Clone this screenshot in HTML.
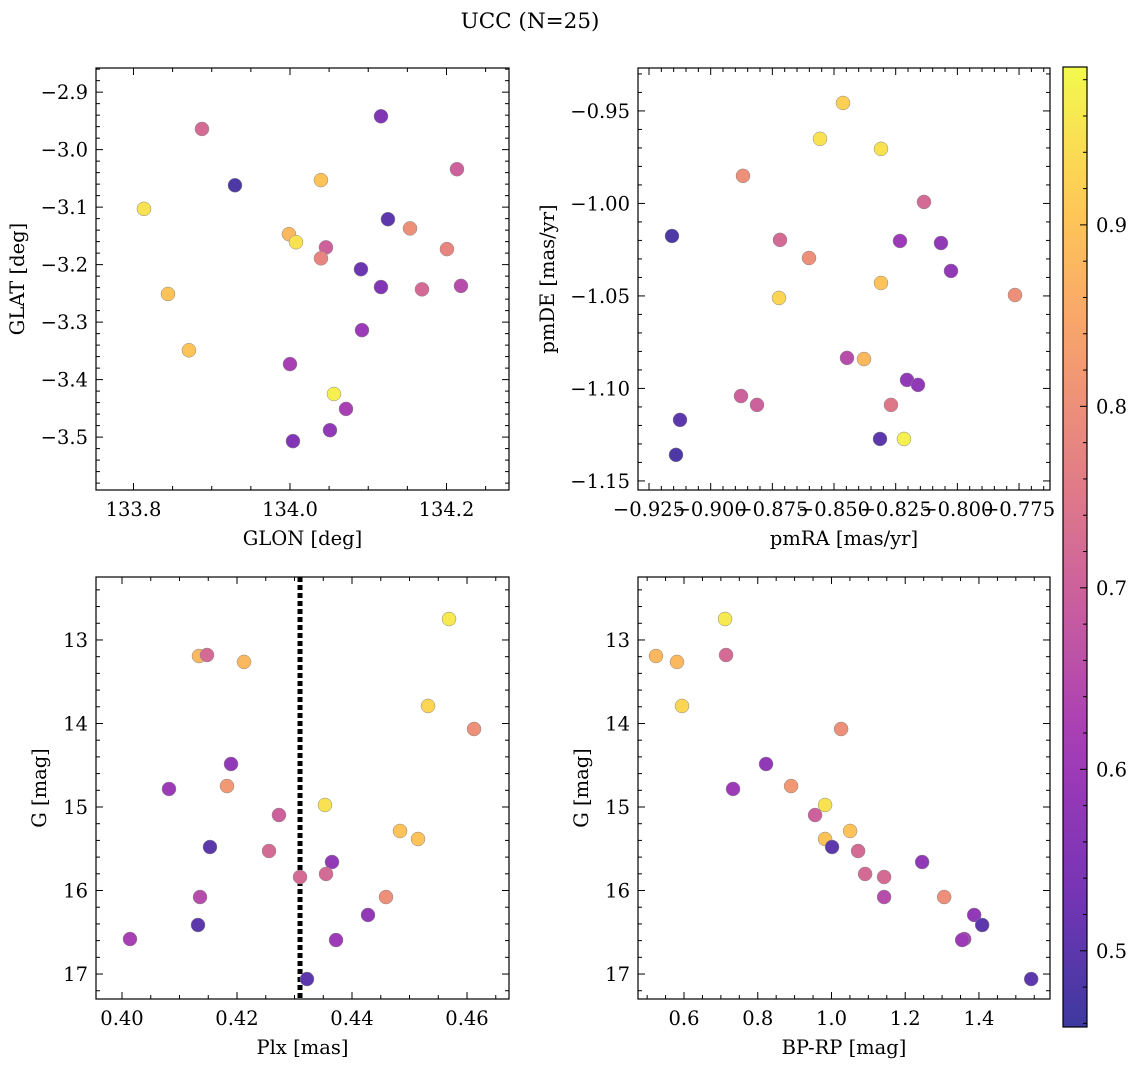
<!DOCTYPE html>
<html><head><meta charset="utf-8"><style>
body{margin:0;background:#fff;}
svg{display:block;font-family:"DejaVu Serif","Liberation Serif",serif;}
</style></head><body>
<svg id="fig" width="1136" height="1067" viewBox="0 0 1136 1067" xmlns="http://www.w3.org/2000/svg">
<text x="530" y="28" font-size="21.5" text-anchor="middle">UCC (N=25)</text>
</svg>
<script>
// Panel 1: GLON vs GLAT
const glon=[133.8875,134.1163,133.9297,134.2134,133.8134,134.0396,134.1252,133.9987,134.0077,134.0460,134.1534,134.0396,134.2006,134.0907,134.1163,134.1687,134.2185,133.8441,133.8709,134.0920,134.0,134.0562,134.0716,134.0511,134.0038];
const glat=[-2.964,-2.942,-3.062,-3.034,-3.103,-3.053,-3.121,-3.147,-3.161,-3.170,-3.137,-3.189,-3.173,-3.208,-3.239,-3.243,-3.237,-3.251,-3.349,-3.314,-3.373,-3.425,-3.451,-3.488,-3.507];
const prob1=[0.72,0.55,0.48,0.70,0.95,0.90,0.50,0.88,0.95,0.70,0.80,0.78,0.78,0.52,0.55,0.72,0.65,0.90,0.90,0.60,0.62,0.97,0.62,0.58,0.55];
// Panel 2: pmRA vs pmDE
const pmra=[-0.84636,-0.85569,-0.83096,-0.88690,-0.81353,-0.91568,-0.8719,-0.82326,-0.80664,-0.86014,-0.80258,-0.83096,-0.77664,-0.87230,-0.84474,-0.83785,-0.82042,-0.81596,-0.88771,-0.88122,-0.82691,-0.91243,-0.83136,-0.82164,-0.91406];
const pmde=[-0.9457,-0.9651,-0.9705,-0.9851,-0.9992,-1.0176,-1.0197,-1.0203,-1.0214,-1.0295,-1.0365,-1.0430,-1.0495,-1.0511,-1.0835,-1.0841,-1.0954,-1.0981,-1.1041,-1.1089,-1.1089,-1.1170,-1.1273,-1.1273,-1.1359];
const prob2=[0.92,0.95,0.95,0.80,0.72,0.48,0.72,0.60,0.58,0.80,0.58,0.90,0.80,0.93,0.65,0.88,0.58,0.58,0.70,0.70,0.75,0.50,0.50,0.97,0.48];
// Panel 3 & 4: Plx, BP-RP vs G
const plx=[0.45687,0.41339,0.41478,0.42122,0.45322,0.46122,0.41896,0.40817,0.41826,0.43530,0.42730,0.44835,0.45148,0.41530,0.42557,0.43652,0.43096,0.43548,0.41357,0.44591,0.44278,0.41322,0.40139,0.43722,0.43217];
const gmag=[12.749,13.192,13.180,13.263,13.790,14.066,14.485,14.784,14.749,14.976,15.096,15.287,15.383,15.479,15.527,15.659,15.838,15.802,16.078,16.078,16.293,16.413,16.581,16.593,17.060];
const bprp=[0.7113,0.5240,0.7140,0.5810,0.5946,1.0261,0.8225,0.7330,0.8904,0.9826,0.9555,1.0505,0.9826,1.0016,1.0722,1.2459,1.1427,1.0912,1.1427,1.3056,1.3870,1.4087,1.3598,1.3544,1.5417];
const gmag4=[12.749,13.192,13.180,13.263,13.790,14.066,14.485,14.784,14.749,14.976,15.096,15.287,15.383,15.479,15.527,15.659,15.838,15.802,16.078,16.078,16.293,16.413,16.581,16.593,17.060];
const prob3=[0.96,0.88,0.72,0.88,0.93,0.80,0.58,0.60,0.82,0.95,0.70,0.90,0.90,0.50,0.72,0.58,0.72,0.72,0.65,0.80,0.58,0.50,0.62,0.60,0.50];
const prob4=[0.96,0.88,0.72,0.88,0.93,0.80,0.58,0.60,0.82,0.95,0.70,0.90,0.90,0.50,0.72,0.58,0.72,0.72,0.65,0.80,0.58,0.50,0.62,0.60,0.50];
const plxLine=0.43096;
const cbTicks=[0.5,0.6,0.7,0.8,0.9];
const vmin=0.458, vmax=0.987;

const NS="http://www.w3.org/2000/svg";
const svg=document.getElementById('fig');
const FS=19.5;
function el(tag,attrs,parent){const e=document.createElementNS(NS,tag);for(const k in attrs)e.setAttribute(k,attrs[k]);(parent||svg).appendChild(e);return e;}
const stops=[[13,8,135],[84,2,163],[139,10,165],[185,50,137],[219,92,104],[244,136,73],[254,188,43],[240,249,33]];
function plasma(t){t=Math.max(0,Math.min(1,t));const p=t*(stops.length-1);const i=Math.min(stops.length-2,Math.floor(p));const f=p-i;
 const c=stops[i].map((v,k)=>Math.round(v+(stops[i+1][k]-v)*f));
 return 'rgb('+c.map(v=>Math.round(v*0.8+255*0.2)).join(',')+')';}
function cmap(v){return plasma((v-vmin)/(vmax-vmin));}
function fmt(v,d){return (v<0?'\u2212':'')+Math.abs(v).toFixed(d);}

function panel(o){
 const g=el('g',{});
 
 
 const X=v=>o.x0+(v-o.xr[0])/(o.xr[1]-o.xr[0])*(o.x1-o.x0);
 const Y=v=>o.inv? o.y0+(v-o.yr[0])/(o.yr[1]-o.yr[0])*(o.y1-o.y0) : o.y1-(v-o.yr[0])/(o.yr[1]-o.yr[0])*(o.y1-o.y0);
 const eps=1e-9;
 for(let v=Math.ceil(o.xr[0]/o.xmin-eps)*o.xmin; v<=o.xr[1]+eps; v+=o.xmin){
  const px=X(v);const major=Math.abs(v/o.xmaj-Math.round(v/o.xmaj))<1e-4;const L=major?7:4;
  el('line',{x1:px,y1:o.y1,x2:px,y2:o.y1-L,stroke:'#000','stroke-width':1},g);
  el('line',{x1:px,y1:o.y0,x2:px,y2:o.y0+L,stroke:'#000','stroke-width':1},g);
  if(major){const t=el('text',{x:px,y:o.y1+26,'font-size':FS,'text-anchor':'middle'},g);t.textContent=fmt(Math.round(v/o.xmaj)*o.xmaj,o.xd);
   }
 }
 for(let v=Math.ceil(o.yr[0]/o.ymin-eps)*o.ymin; v<=o.yr[1]+eps; v+=o.ymin){
  const py=Y(v);const major=Math.abs(v/o.ymaj-Math.round(v/o.ymaj))<1e-4;const L=major?7:4;
  el('line',{x1:o.x0,y1:py,x2:o.x0+L,y2:py,stroke:'#000','stroke-width':1},g);
  el('line',{x1:o.x1,y1:py,x2:o.x1-L,y2:py,stroke:'#000','stroke-width':1},g);
  if(major){const t=el('text',{x:o.x0-8,y:py+7,'font-size':FS,'text-anchor':'end'},g);t.textContent=fmt(Math.round(v/o.ymaj)*o.ymaj,o.yd);
   }
 }
 const xl=el('text',{x:(o.x0+o.x1)/2,y:o.y1+55,'font-size':FS,'text-anchor':'middle'},g);xl.textContent=o.xlab;
 
 const yx=o.x0-(o.ylw||55);const yl=el('text',{x:yx,y:(o.y0+o.y1)/2,'font-size':FS,'text-anchor':'middle',transform:`rotate(-90 ${yx} ${(o.y0+o.y1)/2})`},g);yl.textContent=o.ylab;
 
 if(o.vline!==undefined){const l=el('line',{x1:X(o.vline),x2:X(o.vline),y1:o.y0,y2:o.y1,stroke:'#000','stroke-width':5,'stroke-dasharray':'5,3'},g);
  }
 for(let i=0;i<o.xs.length;i++){
  const c=el('circle',{cx:X(o.xs[i]),cy:Y(o.ys[i]),r:7,fill:cmap(o.cs[i]),stroke:'#888','stroke-width':0.5},g);
  
  
 }
 const f=el('rect',{x:o.x0,y:o.y0,width:o.x1-o.x0,height:o.y1-o.y0,fill:'none',stroke:'#000','stroke-width':1.2},g);
 
}
panel({name:'glon-glat-panel',x0:96,x1:509,y0:68,y1:490,xr:[133.7521,134.2799],yr:[-3.592,-2.858],xmaj:0.2,xmin:0.05,ymaj:0.1,ymin:0.02,xd:1,yd:1,xlab:'GLON [deg]',ylab:'GLAT [deg]',xs:glon,ys:glat,cs:prob1,ylw:72});
panel({name:'proper-motion-panel',x0:638,x1:1050,y0:68,y1:490,xr:[-0.92946,-0.76245],yr:[-1.1549,-0.9268],xmaj:0.025,xmin:0.005,ymaj:0.05,ymin:0.01,xd:3,yd:2,xlab:'pmRA [mas/yr]',ylab:'pmDE [mas/yr]',xs:pmra,ys:pmde,cs:prob2,ylw:84});
panel({name:'plx-g-panel',x0:96,x1:509,y0:577,y1:999,xr:[0.39548,0.46730],yr:[12.246,17.299],inv:true,xmaj:0.02,xmin:0.005,ymaj:1,ymin:0.2,xd:2,yd:0,xlab:'Plx [mas]',ylab:'G [mag]',xs:plx,ys:gmag,cs:prob3,vline:plxLine,ylw:50});
panel({name:'cmd-panel',x0:638,x1:1050,y0:577,y1:999,xr:[0.4752,1.5927],yr:[12.246,17.299],inv:true,xmaj:0.2,xmin:0.05,ymaj:1,ymin:0.2,xd:1,yd:0,xlab:'BP-RP [mag]',ylab:'G [mag]',xs:bprp,ys:gmag4,cs:prob4,ylw:50});
// colorbar
const cb=el('g',{});


const cbx=1063,cbw=24,cby0=67,cby1=1027;
const defs=el('defs',{},cb);const lg=el('linearGradient',{id:'cbg',x1:0,y1:1,x2:0,y2:0},defs);
for(let i=0;i<=20;i++)el('stop',{offset:(i/20),'stop-color':plasma(i/20)},lg);
el('rect',{x:cbx,y:cby0,width:cbw,height:cby1-cby0,fill:'url(#cbg)',stroke:'#000','stroke-width':1.2},cb);
const CY=v=>cby1-(v-vmin)/(vmax-vmin)*(cby1-cby0);
for(let v=0.46;v<=vmax;v+=0.02){const py=CY(v);const major=Math.abs(v*10-Math.round(v*10))<1e-3;
 el('line',{x1:cbx+cbw,x2:cbx+cbw-(major?7:4),y1:py,y2:py,stroke:'#000'},cb);}
cbTicks.forEach(v=>{const t=el('text',{x:cbx+cbw+9,y:CY(v)+7,'font-size':FS},cb);t.textContent=v.toFixed(1);
 });
</script>
</body></html>
